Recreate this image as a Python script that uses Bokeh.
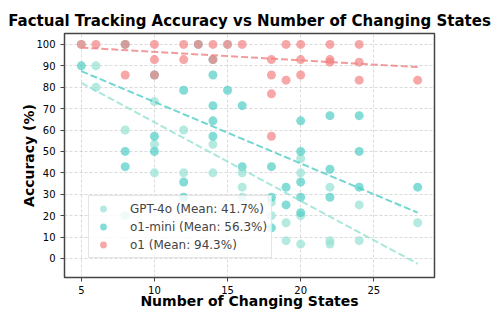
import numpy as np
from bokeh.plotting import figure
from bokeh.models import Range1d, FixedTicker, Legend, LegendItem
from bokeh.embed import file_html
from bokeh.resources import INLINE

# ---- data ----
gpt4o_x = [5, 6, 6, 8, 8, 10, 10, 10, 12, 12, 14, 14, 15, 16, 16, 16, 18, 18, 19, 19,
           20, 20, 20, 20, 22, 22, 22, 24, 24, 28]
gpt4o_y = [100, 90, 80, 60, 20, 73.3, 53.3, 40, 60, 40, 53.3, 40, 100, 40, 33.3, 28.6, 26.3, 20, 16.7, 8.3,
           46.7, 40, 20, 6.7, 33.3, 8.3, 6.7, 25, 8.3, 16.7]

o1mini_x = [5, 8, 8, 8, 10, 10, 10, 12, 12, 12, 13, 14, 14, 14, 14, 14, 15, 16, 16,
            18, 18, 18, 19, 19, 20, 20, 20, 20, 20, 22, 22, 22, 24, 24, 24, 28]
o1mini_y = [90, 100, 50, 42.9, 85.7, 57.1, 50, 78.6, 35.7, 28.6, 100, 92.9, 85.7, 71.4, 64.3, 57.1, 78.6, 71.4, 42.9,
            42.9, 28.6, 14.3, 33.3, 25, 64.3, 50, 35.7, 28.6, 21.4, 66.7, 41.7, 28.6, 66.7, 50, 33.3, 33.3]

o1_x = [5, 6, 8, 8, 10, 10, 10, 12, 12, 13, 14, 14, 15, 16, 18, 18, 18, 18, 19, 19,
        20, 20, 20, 22, 22, 22, 24, 24, 24, 28]
o1_y = [100, 100, 100, 85.7, 100, 92.9, 85.7, 100, 92.9, 100, 100, 92.9, 100, 100, 92.9, 85.7, 76.9, 57.1, 100, 83.3,
        100, 92.9, 85.7, 100, 92.9, 91.7, 100, 91.7, 83.3, 83.3]

# trend lines (values read at the first and last state count)
trend_x = [5, 28]
gpt4o_trend = [82.0, -2.5]
o1mini_trend = [87.5, 21.4]
o1_trend = [98.5, 89.4]

series_names = ["GPT-4o (Mean: 41.7%)", "o1-mini (Mean: 56.3%)", "o1 (Mean: 94.3%)"]
series_colors = ["#95E1D3", "#4ECDC4", "#F38181"]
x_ticks = [5, 10, 15, 20, 25]
y_ticks = [0, 10, 20, 30, 40, 50, 60, 70, 80, 90, 100]

FONT = "DejaVu Sans"

p = figure(width=498, height=315, output_backend="svg", toolbar_location=None,
           x_range=Range1d(3.85, 29.15), y_range=Range1d(-8.9, 105.1),
           min_border_left=64, min_border_right=64, min_border_top=33, min_border_bottom=38)

p.title.text = "Factual Tracking Accuracy vs Number of Changing States"
p.title.text_font = FONT
p.title.text_font_size = "15px"
p.title.text_font_style = "bold"
p.title.text_color = "black"
p.title.align = "center"
p.title.standoff = 7
p.title.offset = 0

p.outline_line_color = "#444444"
p.outline_line_width = 1.5
p.background_fill_color = "white"
p.border_fill_color = "white"

for ax in (p.xaxis, p.yaxis):
    ax.axis_line_color = None
    ax.major_tick_line_color = "#444444"
    ax.major_tick_line_width = 1
    ax.major_tick_out = 4
    ax.major_tick_in = 0
    ax.minor_tick_line_color = None
    ax.major_label_text_font = FONT
    ax.major_label_text_font_size = "10px"
    ax.major_label_text_color = "black"
    ax.axis_label_text_font = FONT
    ax.axis_label_text_font_size = "14px"
    ax.axis_label_text_font_style = "bold"
    ax.axis_label_text_color = "black"

p.xaxis.ticker = FixedTicker(ticks=x_ticks)
p.yaxis.ticker = FixedTicker(ticks=y_ticks)
p.xaxis.axis_label = "Number of Changing States"
p.yaxis.axis_label = "Accuracy (%)"
p.xaxis.major_label_standoff = 4
p.yaxis.major_label_standoff = 5
p.xaxis.axis_label_standoff = -4
p.yaxis.axis_label_standoff = -4

for g in (p.xgrid, p.ygrid):
    g.grid_line_color = "#b0b0b0"
    g.grid_line_alpha = 0.6
    g.grid_line_dash = "3 2"
    g.grid_line_width = 0.8

xs_all = [gpt4o_x, o1mini_x, o1_x]
ys_all = [gpt4o_y, o1mini_y, o1_y]
trends = [gpt4o_trend, o1mini_trend, o1_trend]

items = []
for xs, ys, name, col in zip(xs_all, ys_all, series_names, series_colors):
    r = p.scatter(xs, ys, size=9, fill_color=col, line_color=None, fill_alpha=0.7)
    items.append(LegendItem(label=name, renderers=[r]))

for tr, col in zip(trends, series_colors):
    p.line(trend_x, tr, line_color=col, line_width=2, line_alpha=0.8, line_dash="7 3")

legend = Legend(items=items, location=(24, 19))
legend.label_text_font = FONT
legend.label_text_font_size = "12px"
legend.label_standoff = 17
legend.padding = 4
legend.spacing = 1
legend.glyph_width = 20
legend.glyph_height = 17
legend.label_height = 17
legend.margin = 0
legend.border_line_color = "#cccccc"
legend.border_line_width = 1
legend.background_fill_color = "white"
legend.background_fill_alpha = 0.8
p.add_layout(legend, "center")

open("out.html", "w").write(file_html(p, INLINE))
